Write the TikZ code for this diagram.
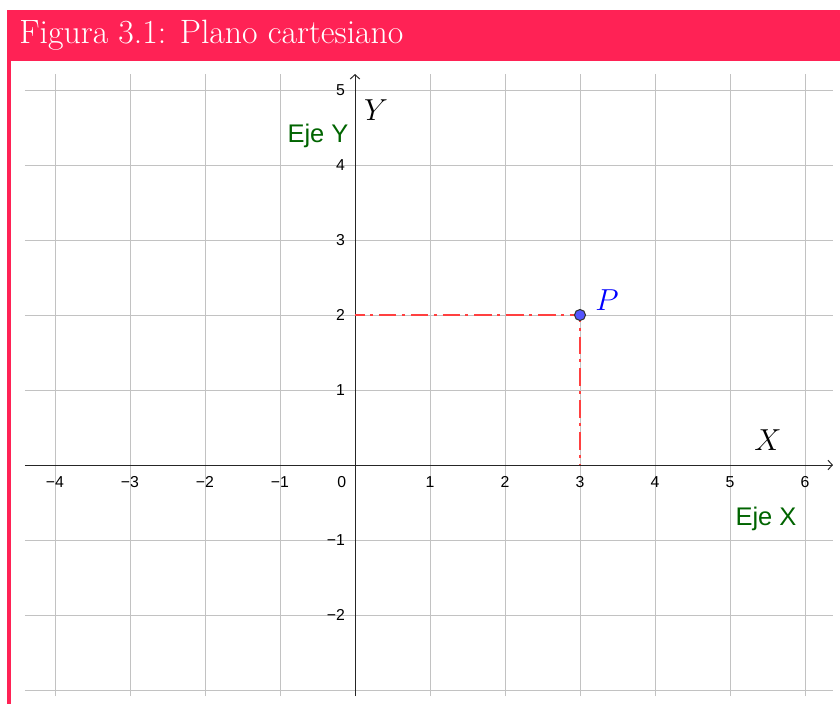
\documentclass[tikz,border=0pt]{standalone}
\usepackage{fontspec}
\usetikzlibrary{arrows.meta}
\newfontfamily\sansgg{Liberation Sans}
\definecolor{rosa}{RGB}{255,34,85}
\definecolor{verdeeje}{RGB}{0,100,0}
\definecolor{rojoguia}{RGB}{255,64,64}
\definecolor{azulpunto}{RGB}{85,85,255}
\tikzset{
  rejilla/.style={draw=black!24, line width=0.45pt, step=1.5cm},
  eje/.style={draw=black!85, line width=0.55pt, -{Straight Barb[length=2.5pt,width=5.5pt]}},
  marca/.style={font=\sansgg\fontsize{9}{10}\selectfont, inner sep=0pt},
  nombreeje/.style={font=\fontsize{17.5}{19}\selectfont, inner sep=0pt},
  textoeje/.style={font=\sansgg\fontsize{14.5}{16}\selectfont, text=verdeeje, inner sep=0pt},
  guia/.style={draw=rojoguia, line width=1.1pt, dash pattern=on 10pt off 3pt on 1.7pt off 3.4pt, dash phase=4.5pt},
  punto/.style={circle, fill=azulpunto, draw=black!80, line width=0.6pt, minimum size=0.22cm, inner sep=0pt}
}
\begin{document}
\begin{tikzpicture}[x=1.5cm, y=1.5cm]
  \useasboundingbox (-4.7333,-3.18667) rectangle (6.4667,6.2);
  % marco
  \fill[rosa] (-4.64,5.3867) rectangle (6.4667,6.0667);
  \fill[rosa] (-4.64,-3.18667) rectangle (-4.587,5.3867);
  \node[anchor=base west, inner sep=0pt, text=white, font=\fontsize{19.2}{22}\selectfont] (titulo) at (-4.48,5.6227) {Figura 3.1: Plano cartesiano};
  % cuadricula
  \draw[rejilla] (-4.4,-3.08) grid (6.373,5.213);
  % ejes
  \draw[eje] (-4.4,0) -- (6.373,0);
  \draw[eje] (0,-3.08) -- (0,5.213);
  \foreach \x/\t in {-4/−4,-3/−3,-2/−2,-1/−1,1/1,2/2,3/3,4/4,5/5,6/6}
    \node[marca] (mx\x) at (\x,-0.2267) {\t};
  \foreach \y/\t in {-2/−2,-1/−1,1/1,2/2,3/3,4/4,5/5}
    \node[marca, anchor=east] (my\y) at (-0.13,\y) {\t};
  \node[marca] (cero) at (-0.177,-0.2267) {0};
  \node[nombreeje] (ejx) at (5.507,0.333) {$X$};
  \node[nombreeje] (ejy) at (0.28,4.733) {$Y$};
  \node[textoeje] (tx) at (5.48,-0.72) {Eje X};
  \node[textoeje] (ty) at (-0.493,4.387) {Eje Y};
  % punto P
  \coordinate (pY) at (0,2);
  \coordinate (pP) at (3,2);
  \coordinate (pX) at (3,0);
  \draw[guia] (pY) -- (pP) -- (pX);
  \node[punto] (P) at (pP) {};
  \node[nombreeje, text=blue] (lP) at (3.36,2.2) {$P$};
\end{tikzpicture}
\end{document}
